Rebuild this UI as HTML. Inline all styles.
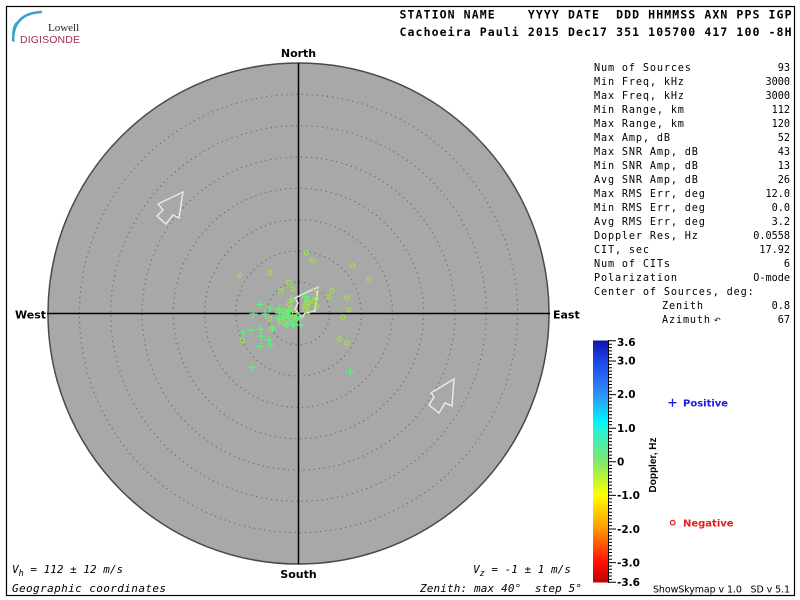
<!DOCTYPE html>
<html>
<head>
<meta charset="utf-8">
<style>
html,body{margin:0;padding:0;background:#fff;}
svg{display:block;}
.mono{font-family:"DejaVu Sans Mono","Liberation Mono",monospace;}
.sans{font-family:"DejaVu Sans","Liberation Sans",sans-serif;}
</style>
</head>
<body>
<svg width="800" height="600" viewBox="0 0 800 600" xmlns="http://www.w3.org/2000/svg">
<defs>
<linearGradient id="cb" x1="0" y1="0" x2="0" y2="1">
<stop offset="0" stop-color="#1212a8"/>
<stop offset="0.083" stop-color="#1c44ec"/>
<stop offset="0.222" stop-color="#2e90f8"/>
<stop offset="0.333" stop-color="#00f4ff"/>
<stop offset="0.361" stop-color="#20f2e0"/>
<stop offset="0.5" stop-color="#80e868"/>
<stop offset="0.639" stop-color="#ffff00"/>
<stop offset="0.778" stop-color="#ff9800"/>
<stop offset="0.917" stop-color="#ff1000"/>
<stop offset="1" stop-color="#c00000"/>
</linearGradient>
</defs>

<rect x="0" y="0" width="800" height="600" fill="#fff"/>
<rect x="6.5" y="6.5" width="788" height="589" fill="none" stroke="#000" stroke-width="1.2"/>

<!-- Logo -->
<path d="M13,41 Q13,13 42,12" fill="none" stroke="#3d9fcb" stroke-width="2.4"/>
<path d="M14,42 Q11,28 17,22" fill="none" stroke="#3d9fcb" stroke-width="1.5"/>
<text x="48" y="31" font-family="'Liberation Serif',serif" font-size="11" fill="#222">Lowell</text>
<text x="20" y="43" font-family="'Liberation Sans',sans-serif" font-size="10.5" fill="#a02a5c" textLength="60">DIGISONDE</text>

<!-- Header -->
<text class="mono" x="399.5" y="18.5" font-size="11.5" font-weight="bold" textLength="392" xml:space="preserve">STATION NAME    YYYY DATE  DDD HHMMSS AXN PPS IGP</text>
<text class="mono" x="399.5" y="36" font-size="11.5" font-weight="bold" textLength="392" xml:space="preserve">Cachoeira Pauli 2015 Dec17 351 105700 417 100 -8H</text>

<!-- Sky circle -->
<circle cx="298.5" cy="313.5" r="250.5" fill="#a8a8a8" stroke="#4a4a4a" stroke-width="1.5"/>
<g fill="none" stroke="#6c6c6c" stroke-width="1.2" stroke-dasharray="1.2 3.9">
<circle cx="298.5" cy="313.5" r="31.3"/>
<circle cx="298.5" cy="313.5" r="62.6"/>
<circle cx="298.5" cy="313.5" r="93.9"/>
<circle cx="298.5" cy="313.5" r="125.2"/>
<circle cx="298.5" cy="313.5" r="156.5"/>
<circle cx="298.5" cy="313.5" r="187.8"/>
<circle cx="298.5" cy="313.5" r="219.1"/>
</g>
<line x1="47" y1="313.5" x2="550" y2="313.5" stroke="#000" stroke-width="1.5"/>
<line x1="298.5" y1="63" x2="298.5" y2="564" stroke="#000" stroke-width="1.5"/>

<!-- Arrows -->
<g fill="none" stroke="#e8e8e8" stroke-width="1.5" stroke-linejoin="miter">
<polygon points="183,192 158,204 163,210 157,216 166,224 173,215 179,218"/>
<polygon points="454,379 431,393 434,397 429,405 439,413 445,403 452,406"/>
<polygon points="318,287 295,298 298,303 295,309 302,318 305,313 315,311"/>
</g>

<!-- Data: circles (negative) -->
<g fill="none" stroke="#9ee04c" stroke-width="1.2">
<circle cx="306.7" cy="252.7" r="2.1"/>
<circle cx="312.7" cy="260.7" r="2.1"/>
<circle cx="352.7" cy="265.7" r="2.1"/>
<circle cx="369.3" cy="279.7" r="2.1"/>
<circle cx="239.7" cy="275.3" r="2.1"/>
<circle cx="269.7" cy="272.7" r="2.1"/>
<circle cx="288.7" cy="282.7" r="2.1"/>
<circle cx="280.7" cy="290.7" r="2.1"/>
<circle cx="292.7" cy="288.7" r="2.1"/>
<circle cx="331.7" cy="290.7" r="2.1"/>
<circle cx="328.7" cy="296.7" r="2.1"/>
<circle cx="346.7" cy="297.7" r="2.1"/>
<circle cx="315.3" cy="289.3" r="2.1"/>
<circle cx="306.7" cy="300.7" r="2.1"/>
<circle cx="308.7" cy="302.7" r="2.1"/>
<circle cx="314" cy="300.7" r="2.1"/>
<circle cx="316" cy="298.7" r="2.1"/>
<circle cx="289.3" cy="304.3" r="2.1"/>
<circle cx="316.7" cy="306" r="2.1"/>
<circle cx="348.7" cy="309.7" r="2.1"/>
<circle cx="342.7" cy="317" r="2.1"/>
<circle cx="306.7" cy="306.7" r="2.1"/>
<circle cx="305.3" cy="310" r="2.1"/>
<circle cx="308" cy="311.7" r="2.1"/>
<circle cx="269.7" cy="318.7" r="2.1"/>
<circle cx="296.7" cy="318.3" r="2.1"/>
<circle cx="339.3" cy="338.7" r="2.1"/>
<circle cx="346.7" cy="342.7" r="2.1"/>
<circle cx="280.7" cy="320.7" r="2.1"/>
<circle cx="291.7" cy="300" r="2.1"/>
<circle cx="305" cy="305.7" r="2.1"/>
<circle cx="291" cy="308.3" r="2.1"/>
<circle cx="285" cy="311" r="2.1"/>
<circle cx="278.3" cy="311" r="2.1"/>
<circle cx="287.7" cy="312.3" r="2.1"/>
<circle cx="286.7" cy="315.7" r="2.1"/>
<circle cx="291" cy="319" r="2.1"/>
<circle cx="272.3" cy="328.3" r="2.1"/>
<circle cx="284.3" cy="321.7" r="2.1"/>
<circle cx="294.3" cy="314.3" r="2.1"/>
<circle cx="242.3" cy="340.5" r="2.1"/>
</g>

<!-- Data: pluses (positive) -->
<g fill="none" stroke="#5ef07c" stroke-width="1.2">
<path d="
M256.3,304.3h8M260.3,300.3v8
M249.3,314h8M253.3,310v8
M261.3,314h8M265.3,310v8
M275,308.3h8M279,304.3v8
M275,313h8M279,309v8
M278,315h8M282,311v8
M282,313h8M286,309v8
M284,315h8M288,311v8
M286,311h8M290,307v8
M275.3,321.7h8M279.3,317.7v8
M282,325h8M286,321v8
M288.7,324h8M292.7,320v8
M287.7,299.3h8M291.7,295.3v8
M302,296.7h8M306,292.7v8
M297.3,325h8M301.3,321v8
M295.3,317.3h8M299.3,313.3v8
M239.3,332.3h8M243.3,328.3v8
M247.3,330.3h8M251.3,326.3v8
M256.3,329.3h8M260.3,325.3v8
M268.3,329.3h8M272.3,325.3v8
M257.3,336.3h8M261.3,332.3v8
M264.3,340h8M268.3,336v8
M256.3,346.3h8M260.3,342.3v8
M266.3,345.3h8M270.3,341.3v8
M248.3,367.3h8M252.3,363.3v8
M346.3,372.3h8M350.3,368.3v8
M302.7,297.7h8M306.7,293.7v8
M266,308.3h8M270,304.3v8
M279.3,313.3h8M283.3,309.3v8
M274.3,318.3h8M278.3,314.3v8
M281.7,318.3h8M285.7,314.3v8
M286,321.7h8M290,317.7v8
M292.7,318.3h8M296.7,314.3v8
M283.7,325h8M287.7,321v8
M290.3,325h8M294.3,321v8
"/>
</g>

<!-- Compass labels -->
<g class="sans" font-size="11" font-weight="bold" fill="#000">
<text x="298.5" y="57" text-anchor="middle">North</text>
<text x="298.5" y="578" text-anchor="middle">South</text>
<text x="15" y="318.5">West</text>
<text x="553" y="318.5">East</text>
</g>

<!-- Stats panel -->
<g class="mono" font-size="10.2" fill="#000" letter-spacing="0.85">
<text x="594" y="71.2">Num of Sources</text>
<text x="594" y="85.2">Min Freq, kHz</text>
<text x="594" y="99.2">Max Freq, kHz</text>
<text x="594" y="113.2">Min Range, km</text>
<text x="594" y="127.2">Max Range, km</text>
<text x="594" y="141.2">Max Amp, dB</text>
<text x="594" y="155.2">Max SNR Amp, dB</text>
<text x="594" y="169.2">Min SNR Amp, dB</text>
<text x="594" y="183.2">Avg SNR Amp, dB</text>
<text x="594" y="197.2">Max RMS Err, deg</text>
<text x="594" y="211.2">Min RMS Err, deg</text>
<text x="594" y="225.2">Avg RMS Err, deg</text>
<text x="594" y="239.2">Doppler Res, Hz</text>
<text x="594" y="253.2">CIT, sec</text>
<text x="594" y="267.2">Num of CITs</text>
<text x="594" y="281.2">Polarization</text>
<text x="594" y="295.2">Center of Sources, deg:</text>
<text x="662" y="309.2">Zenith</text>
<text x="662" y="323.2">Azimuth</text>
</g>
<text x="714" y="323" font-family="'DejaVu Sans',sans-serif" font-size="8" fill="#000">↶</text>
<g class="mono" font-size="10.2" fill="#000" text-anchor="end">
<text x="790" y="71.2">93</text>
<text x="790" y="85.2">3000</text>
<text x="790" y="99.2">3000</text>
<text x="790" y="113.2">112</text>
<text x="790" y="127.2">120</text>
<text x="790" y="141.2">52</text>
<text x="790" y="155.2">43</text>
<text x="790" y="169.2">13</text>
<text x="790" y="183.2">26</text>
<text x="790" y="197.2">12.0</text>
<text x="790" y="211.2">0.0</text>
<text x="790" y="225.2">3.2</text>
<text x="790" y="239.2">0.0558</text>
<text x="790" y="253.2">17.92</text>
<text x="790" y="267.2">6</text>
<text x="790" y="281.2">O-mode</text>
<text x="790" y="309.2">0.8</text>
<text x="790" y="323.2">67</text>
</g>

<!-- Colorbar -->
<rect x="593" y="340.5" width="15" height="242" fill="url(#cb)"/>
<line x1="608.5" y1="340" x2="608.5" y2="583" stroke="#000" stroke-width="1"/>
<path stroke="#000" stroke-width="1" fill="none" d="
M608,340.8h8M608,344.2h4M608,347.6h4M608,350.9h4M608,354.3h4M608,357.6h4M608,361h8M608,364.4h4M608,367.7h4M608,371.1h4M608,374.4h4M608,377.8h4M608,381.2h4M608,384.5h4M608,387.9h4M608,391.2h4M608,394.6h8M608,398h4M608,401.3h4M608,404.7h4M608,408h4M608,411.4h4M608,414.8h4M608,418.1h4M608,421.5h4M608,424.8h4M608,428.2h8M608,431.6h4M608,434.9h4M608,438.3h4M608,441.6h4M608,445h4M608,448.4h4M608,451.7h4M608,455.1h4M608,458.4h4M608,461.8h8M608,465.2h4M608,468.5h4M608,471.9h4M608,475.2h4M608,478.6h4M608,482h4M608,485.3h4M608,488.7h4M608,492h4M608,495.4h8M608,498.8h4M608,502.1h4M608,505.5h4M608,508.8h4M608,512.2h4M608,515.6h4M608,518.9h4M608,522.3h4M608,525.6h4M608,529h8M608,532.4h4M608,535.7h4M608,539.1h4M608,542.4h4M608,545.8h4M608,549.2h4M608,552.5h4M608,555.9h4M608,559.2h4M608,562.6h8M608,566h4M608,569.3h4M608,572.7h4M608,576h4M608,579.4h4M608,582.3h8"/>
<g class="sans" font-size="10.5" font-weight="bold" fill="#000">
<text x="617" y="346">3.6</text>
<text x="617" y="364.5">3.0</text>
<text x="617" y="398">2.0</text>
<text x="617" y="432">1.0</text>
<text x="617" y="465.5">0</text>
<text x="617" y="499">-1.0</text>
<text x="617" y="533">-2.0</text>
<text x="617" y="566.5">-3.0</text>
<text x="617" y="586">-3.6</text>
</g>
<text transform="translate(656,465) rotate(-90)" text-anchor="middle" font-family="'Liberation Sans',sans-serif" font-size="10" font-weight="bold" fill="#000">Doppler, Hz</text>

<!-- Legend -->
<path d="M668.5,402.7h8M672.5,398.7v8" stroke="#1a1ae6" stroke-width="1.3" fill="none"/>
<text class="sans" x="683" y="406.5" font-size="10" font-weight="bold" fill="#1a1ae6">Positive</text>
<circle cx="672.7" cy="522.7" r="2.3" fill="none" stroke="#e61a1a" stroke-width="1.3"/>
<text class="sans" x="683" y="526.5" font-size="10" font-weight="bold" fill="#e61a1a">Negative</text>

<!-- Bottom texts -->
<g class="mono" font-size="11" font-style="italic" fill="#000">
<text x="12" y="573">V<tspan font-size="8.5" dy="3">h</tspan><tspan dy="-3" xml:space="preserve"> = 112 ± 12 m/s</tspan></text>
<text x="12" y="592" textLength="154">Geographic coordinates</text>
<text x="473" y="573">V<tspan font-size="8.5" dy="3">z</tspan><tspan dy="-3" xml:space="preserve"> = -1 ± 1 m/s</tspan></text>
<text x="420" y="592" textLength="162" xml:space="preserve">Zenith: max 40°  step 5°</text>
</g>
<text class="sans" x="653" y="592.5" font-size="9.5" fill="#000" textLength="137" xml:space="preserve">ShowSkymap v 1.0   SD v 5.1</text>
</svg>
</body>
</html>
